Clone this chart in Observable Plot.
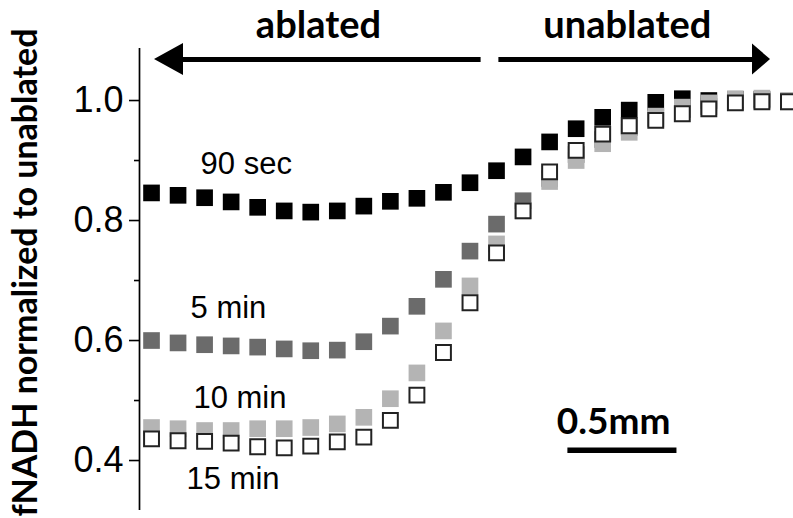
<!DOCTYPE html>
<html>
<head>
<meta charset="utf-8">
<script src="https://cdn.jsdelivr.net/npm/d3@7"></script>
<script src="https://cdn.jsdelivr.net/npm/@observablehq/plot@0.6"></script>
<style>
  html, body { margin: 0; padding: 0; background: #fff; }
</style>
</head>
<body>
<div id="chart"></div>
<script>
// positions along the tissue (sample index)
const positions = [0,1,2,3,4,5,6,7,8,9,10,11,12,13,14,15,16,17,18,19,20,21,22,23,24];

// fNADH normalized to unablated, per ablation duration
const sec90 = [0.846,0.842,0.838,0.831,0.822,0.816,0.814,0.816,0.824,0.832,0.837,0.847,0.863,0.883,0.906,0.931,0.953,0.972,0.984,0.997,1.003,1.000,1.002,1.002,0.998];
const min5  = [0.600,0.596,0.593,0.591,0.589,0.586,0.583,0.584,0.598,0.624,0.657,0.702,0.749,0.794,0.833,0.870,0.910,0.935,0.955,0.970,0.985,0.990,0.998,1.000,0.999];
const min10 = [0.455,0.453,0.450,0.450,0.453,0.453,0.455,0.461,0.472,0.503,0.546,0.616,0.691,0.761,0.816,0.865,0.900,0.928,0.947,0.974,0.989,0.996,1.003,1.004,1.000];
const min15 = [0.436,0.433,0.432,0.429,0.423,0.421,0.424,0.431,0.439,0.467,0.509,0.580,0.663,0.746,0.816,0.881,0.917,0.944,0.958,0.967,0.978,0.986,0.996,0.998,0.998];

// tick labels
const majorTicks = [0.4, 0.6, 0.8, 1.0];
const minorTicks = [0.5, 0.7, 0.9];

// texts
const yLabel = "fNADH normalized to unablated";
const seriesLabels = [
  {text: "90 sec", x: 1.85, y: 0.878},
  {text: "5 min",  x: 1.47, y: 0.638},
  {text: "10 min", x: 1.58, y: 0.488},
  {text: "15 min", x: 1.32, y: 0.352}
];
const regionLabels = [
  {text: "ablated",   x: 6.29,  y: 1.104},
  {text: "unablated", x: 17.93, y: 1.104}
];
// arrows (data units)
const arrowY = 1.0683;
const shafts = [{x1: 1.0, x2: 12.40}, {x1: 13.07, x2: 22.8}];
const leftHead  = [{x: 0.112, y1: arrowY, y2: arrowY}, {x: 1.205, y1: arrowY - 0.0267, y2: arrowY + 0.0267}];
const rightHead = [{x: 22.646, y1: arrowY - 0.0258, y2: arrowY + 0.0258}, {x: 23.325, y1: arrowY, y2: arrowY}];
// scale bar
const scaleBar = [{x1: 15.67, x2: 19.78, y: 0.417}];
const scaleLabel = [{text: "0.5mm", x: 17.41, y: 0.444}];

const rows = (vals) => positions.map((p, i) => ({pos: p, v: vals[i]}));

const xDomain = [-0.453, 24.19];
const yDomain = [0.3167, 1.0867];
const sansFont = "'Liberation Sans', Arial, sans-serif";
const boldFont = "Lato, 'Open Sans', sans-serif";

const chart = Plot.plot({
  width: 793,
  height: 518,
  marginLeft: 139,
  marginRight: 0,
  marginTop: 48,
  marginBottom: 8,
  x: {domain: xDomain, axis: null},
  y: {domain: yDomain, axis: null},
  style: {fontFamily: sansFont, background: "white", color: "black", overflow: "visible"},
  marks: [
    Plot.ruleX([{x: xDomain[0], y1: yDomain[0], y2: yDomain[1]}], {x: "x", y1: "y1", y2: "y2", stroke: "black", strokeWidth: 1.7}),
    Plot.axisY(majorTicks, {anchor: "left", tickSize: 10, tickPadding: 6, fontSize: 36, fontFamily: sansFont, strokeWidth: 1.6, tickFormat: d => d.toFixed(1), label: null}),
    Plot.axisY(minorTicks, {anchor: "left", tickSize: 5, strokeWidth: 1.6, tickFormat: () => "", label: null}),
    Plot.text([{text: yLabel, x: -4.30, y: 0.7133}], {x: "x", y: "y", text: "text", rotate: -90, textAnchor: "middle", lineAnchor: "bottom", fontFamily: boldFont, fontWeight: "bold", fontSize: 34, fill: "black"}),

    Plot.dot(rows(sec90), {x: "pos", y: "v", symbol: "square", r: 9.4, fill: "#000000", stroke: "none"}),
    Plot.dot(rows(min5),  {x: "pos", y: "v", symbol: "square", r: 9.4, fill: "#6b6b6b", stroke: "none"}),
    Plot.dot(rows(min10), {x: "pos", y: "v", symbol: "square", r: 9.4, fill: "#b4b4b4", stroke: "none"}),
    Plot.dot(rows(min15), {x: "pos", y: "v", symbol: "square", r: 8.4, fill: "white", stroke: "#222", strokeWidth: 2}),

    Plot.text(seriesLabels, {x: "x", y: "y", text: "text", textAnchor: "start", lineAnchor: "bottom", fontFamily: sansFont, fontSize: 31, fill: "black"}),
    Plot.text(regionLabels, {x: "x", y: "y", text: "text", textAnchor: "middle", lineAnchor: "bottom", fontFamily: boldFont, fontWeight: "bold", fontSize: 38, fill: "black"}),

    Plot.link(shafts, {x1: "x1", x2: "x2", y1: () => arrowY, y2: () => arrowY, stroke: "black", strokeWidth: 5}),
    Plot.areaY(leftHead, {x: "x", y1: "y1", y2: "y2", fill: "black"}),
    Plot.areaY(rightHead, {x: "x", y1: "y1", y2: "y2", fill: "black"}),

    Plot.link(scaleBar, {x1: "x1", x2: "x2", y1: "y", y2: "y", stroke: "black", strokeWidth: 5.5}),
    Plot.text(scaleLabel, {x: "x", y: "y", text: "text", textAnchor: "middle", lineAnchor: "bottom", fontFamily: boldFont, fontWeight: "bold", fontSize: 37, fill: "black"})
  ]
});
document.getElementById("chart").appendChild(chart);
</script>
</body>
</html>
